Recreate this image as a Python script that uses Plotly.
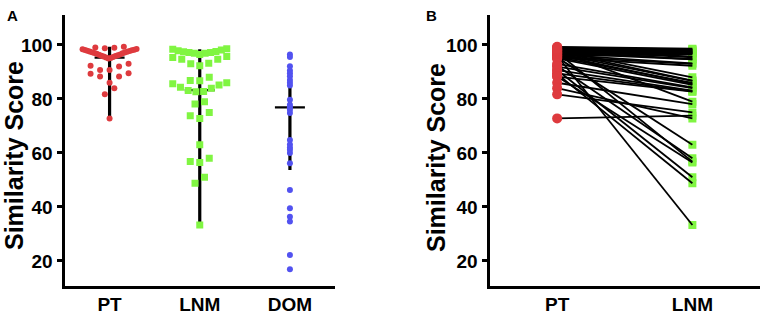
import plotly.graph_objects as go
import numpy as np

# ---------------- data ----------------
categories_a = ["PT", "LNM", "DOM"]
categories_b = ["PT", "LNM"]
y_ticks = [20, 40, 60, 80, 100]

# paired similarity scores (same patient order in both arrays)
pt_scores = [98.8, 99.0, 99.1, 99.3,
             95.0, 95.2, 95.4, 95.5, 95.7, 95.9, 96.0, 96.2, 96.4, 96.5, 96.7, 96.9,
             97.0, 97.2, 97.3, 97.5, 97.6, 97.8, 97.9, 98.0, 98.1, 98.2, 98.4, 98.5,
             93.0, 92.3, 92.0, 90.7, 90.7, 89.5, 89.3, 88.3, 88.3, 86.0, 84.0, 81.7, 72.8]
lnm_scores = [97.9, 98.1, 98.4, 98.6,
              85.2, 92.3, 63.0, 86.0, 93.0, 96.5, 33.3, 85.6, 93.2, 96.9, 86.7, 94.7,
              96.9, 56.8, 97.2, 86.8, 94.7, 97.2, 79.0, 88.0, 95.4, 97.5, 95.7, 97.6,
              84.3, 58.0, 84.0, 51.0, 83.1, 82.8, 48.8, 82.7, 56.5, 78.1, 72.8, 75.0, 73.8]
dom_scores = [96.5, 95.5, 92.1, 90.5, 89.5, 88.4, 87.0, 86.0, 85.0, 79.7, 77.9, 76.9,
              76.0, 74.8, 64.8, 63.1, 62.0, 61.2, 60.0, 56.2, 46.3, 39.5, 36.4, 34.6,
              22.2, 16.9]

summary_center = [95.3, 83.3, 76.9]
summary_low = [72.8, 33.3, 53.7]
summary_high = [99.3, 98.4, 92.0]

# ---------------- style / geometry ----------------
W, H = 765, 316
RED, GREEN, BLUE = "#DE3A3E", "#80F542", "#5252F0"
FONT = "Liberation Sans, Arial, sans-serif"
A_X0, A_X1 = 64.5, 335
B_X0, B_X1 = 489.5, 760
Y_TOP, Y_BOT = 15, 285.5
Y_RANGE = [10.9, 111.1]

px_per_unit_a = (A_X1 - A_X0) / 3.0


def px_x(p):
    return p / W


def px_y(p):
    return 1 - p / H


def swarm_offsets(values, row_h=3.7, step_px=9.5, max_w_px=54.0):
    v = np.asarray(values, float)
    order = np.argsort(v, kind="stable")
    rows, cur, start = [], [], None
    for i in order:
        if start is None or v[i] >= start + row_h:
            if cur:
                rows.append(cur)
            cur, start = [i], v[i]
        else:
            cur.append(i)
    if cur:
        rows.append(cur)
    off = np.zeros(len(v))
    for row in rows:
        n = len(row)
        s = step_px if n == 1 else min(step_px, max_w_px / (n - 1))
        for k, i in enumerate(row):
            if n % 2 == 1:
                slot = 0 if k == 0 else ((k + 1) // 2) * (-1 if k % 2 == 1 else 1)
            else:
                slot = (k // 2 + 0.5) * (-1 if k % 2 == 0 else 1)
            off[i] = slot * s
    return off / px_per_unit_a


def bold(items):
    return ["<b>%s</b>" % t for t in items]


fig = go.Figure()

# ---- panel A: summary lines (under points) ----
half_w = 15 / px_per_unit_a
for i, c in enumerate(categories_a):
    fig.add_trace(go.Scatter(x=[i, i], y=[summary_low[i], summary_high[i]], mode="lines",
                             line=dict(color="black", width=3.2), xaxis="x", yaxis="y",
                             showlegend=False, hoverinfo="skip"))
    fig.add_trace(go.Scatter(x=[i - half_w, i + half_w], y=[summary_center[i]] * 2, mode="lines",
                             line=dict(color="black", width=2.2), xaxis="x", yaxis="y",
                             showlegend=False, hoverinfo="skip"))

pt_x = 0 + swarm_offsets(pt_scores)
lnm_x = 1 + swarm_offsets(lnm_scores)
fig.add_trace(go.Scatter(x=pt_x, y=pt_scores, mode="markers", xaxis="x", yaxis="y",
                         marker=dict(symbol="circle", size=6, color=RED), showlegend=False))
fig.add_trace(go.Scatter(x=lnm_x, y=lnm_scores, mode="markers", xaxis="x", yaxis="y",
                         marker=dict(symbol="square", size=7, color=GREEN), showlegend=False))
fig.add_trace(go.Scatter(x=[2] * len(dom_scores), y=dom_scores, mode="markers", xaxis="x", yaxis="y",
                         marker=dict(symbol="circle", size=6, color=BLUE), showlegend=False))

# ---- panel B: paired lines ----
fig.add_trace(go.Scatter(x=[1] * len(lnm_scores), y=lnm_scores, mode="markers", xaxis="x2", yaxis="y2",
                         marker=dict(symbol="square", size=8, color=GREEN), showlegend=False))
lx, ly = [], []
for p, l in zip(pt_scores, lnm_scores):
    lx += [0, 1, None]
    ly += [p, l, None]
fig.add_trace(go.Scatter(x=lx, y=ly, mode="lines", xaxis="x2", yaxis="y2",
                         line=dict(color="black", width=1.8), showlegend=False, hoverinfo="skip"))
fig.add_trace(go.Scatter(x=[0] * len(pt_scores), y=pt_scores, mode="markers", xaxis="x2", yaxis="y2",
                         marker=dict(symbol="circle", size=10, color=RED), showlegend=False))

ydom = [1 - Y_BOT / H, 1 - Y_TOP / H]
tick_font = dict(family=FONT, size=19, color="black")
common_x = dict(showline=True, linewidth=3, linecolor="black", ticks="", ticklen=0, showgrid=False,
                zeroline=False, tickfont=tick_font)
common_y = dict(showline=True, linewidth=3, linecolor="black", ticks="outside", ticklen=5,
                tickwidth=3, tickcolor="black", showgrid=False, zeroline=False, range=Y_RANGE,
                tickvals=y_ticks, ticktext=bold([str(t) for t in y_ticks]), domain=ydom,
                tickfont=tick_font)

title_font = dict(family=FONT, size=25, color="black")
panel_font = dict(family=FONT, size=15, color="black")

fig.update_layout(
    width=W, height=H, margin=dict(l=0, r=0, t=0, b=0),
    paper_bgcolor="white", plot_bgcolor="white",
    xaxis=dict(domain=[A_X0 / W, A_X1 / W], range=[-0.5, 2.5], tickvals=[0, 1, 2],
               ticktext=bold(categories_a), anchor="y", **common_x),
    yaxis=dict(anchor="x", **common_y),
    xaxis2=dict(domain=[B_X0 / W, B_X1 / W], range=[-0.5, 1.5], tickvals=[0, 1],
                ticktext=bold(categories_b), anchor="y2", **common_x),
    yaxis2=dict(anchor="x2", **common_y),
    annotations=[
        dict(text="<b>A</b>", x=px_x(13), y=px_y(15), xref="paper", yref="paper", showarrow=False,
             xanchor="center", yanchor="middle", font=panel_font),
        dict(text="<b>B</b>", x=px_x(431), y=px_y(15), xref="paper", yref="paper", showarrow=False,
             xanchor="center", yanchor="middle", font=panel_font),
        dict(text="<b>Similarity Score</b>", textangle=-90, x=px_x(14), y=px_y(156), xref="paper",
             yref="paper", showarrow=False, xanchor="center", yanchor="middle", font=title_font),
        dict(text="<b>Similarity Score</b>", textangle=-90, x=px_x(436), y=px_y(158), xref="paper",
             yref="paper", showarrow=False, xanchor="center", yanchor="middle", font=title_font),
    ],
)

fig.write_html("out.html", config={"displayModeBar": False},
               post_script="document.body.style.margin='0';document.body.style.overflow='hidden';")
